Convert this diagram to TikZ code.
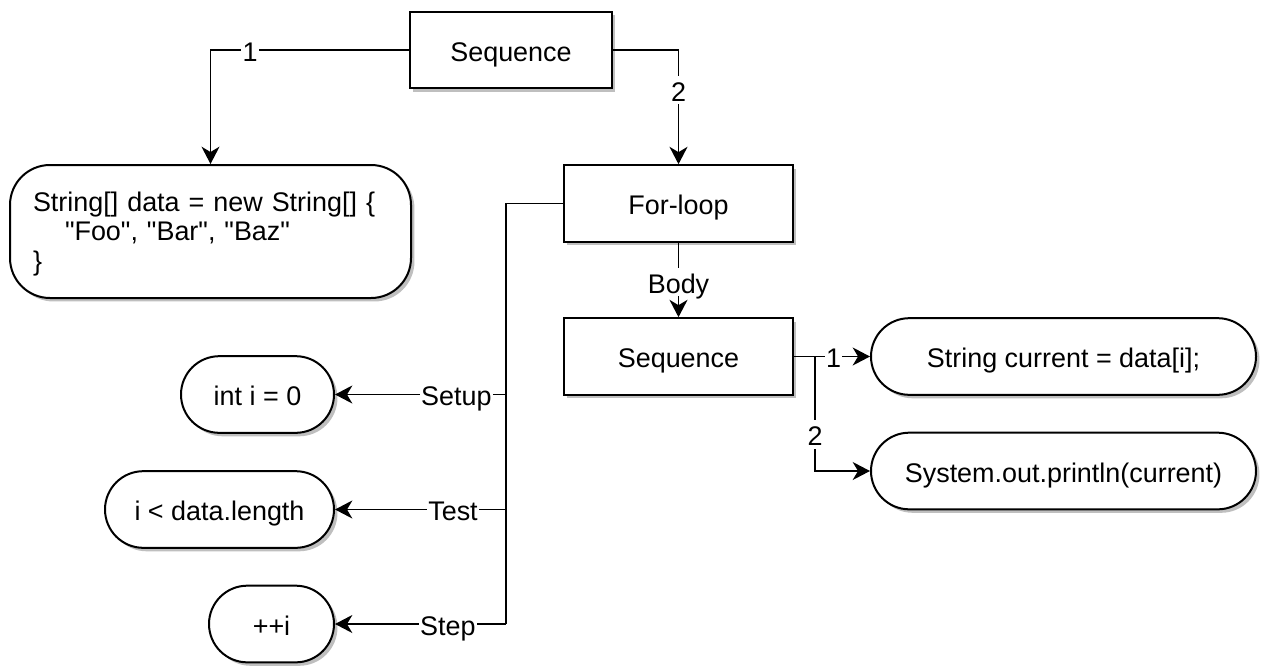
\documentclass[tikz,border=0pt]{standalone}
\usepackage{fontspec}
\setmainfont{Liberation Sans}[Ligatures=TeXOff]
\usetikzlibrary{shapes.misc,shadows,arrows.meta}
\begin{document}
\begin{tikzpicture}[x=0.75pt,y=-0.75pt,
  font=\fontsize{20.2}{22}\selectfont,
  shade/.style={drop shadow={shadow xshift=2.6pt,shadow yshift=-2.6pt,fill=black,opacity=0.25}},
  oneline/.style={text height=17.5pt,text depth=0.8pt},
  box/.style={draw,line width=1.5pt,fill=white,inner sep=0pt,shade},
  blockbox/.style={box,oneline,rectangle,minimum height=57.5pt},
  leafbox/.style={box,oneline,rounded rectangle,minimum height=57.5pt},
  link/.style={line width=1.4pt},
  arr/.style={link,-{Stealth[length=13pt,width=13.5pt,inset=4pt]}},
  tag/.style={oneline,fill=white,inner xsep=1pt,inner ysep=1.5pt}]
\useasboundingbox (0,0) rectangle (1263,668);

% statement nodes
\node[blockbox,minimum width=151.5pt] (seqtop) at (511,50) {Sequence};
\node[box,rectangle,rounded corners=30pt,minimum width=300.75pt,minimum height=99.75pt] (decl) at (210.5,231.5) {};
\node[text width=266.25pt,align=left,inner sep=0pt] (decltext) at (210.5,234)
  {String[] data = new String[] \{\\\hspace*{24pt}"Foo", "Bar", "Baz"\\\}};
\node[blockbox,minimum width=171.75pt] (loop) at (678.5,203.5) {For-loop};
\node[blockbox,minimum width=171.75pt] (seqbody) at (678.5,356.5) {Sequence};
\node[leafbox,minimum width=288.75pt] (cur) at (1063.5,356.5) {String current = data[i];};
\node[leafbox,minimum width=288.75pt] (print) at (1063.5,471) {System.out.println(current)};
\node[leafbox,minimum width=114.75pt] (init) at (257.5,394.5) {int i = 0};
\node[leafbox,minimum width=171.75pt] (test) at (219.5,509.5) {i < data.length};
\node[leafbox,minimum width=93.75pt] (incr) at (271.5,624) {++i};

% junction points
\coordinate (jsetup) at (506,394.5);
\coordinate (jtest) at (506,509.5);
\coordinate (jstep) at (506,624);
\coordinate (fork) at (815,356.5);

% connectors
\draw[arr] (seqtop.west) -| node[tag,pos=0.4] {1} (decl.north);
\draw[arr] (seqtop.east) -| node[tag,pos=0.675] {2} (loop.north);
\draw[arr] (loop.south) -- node[tag,pos=0.53] {Body} (seqbody.north);
\draw[link] (loop.west) -| (jstep);
\draw[arr] (jsetup) -- node[tag,pos=0.29] {Setup} (init.east);
\draw[arr] (jtest) -- node[tag,pos=0.31] {Test} (test.east);
\draw[arr] (jstep) -- node[tag,pos=0.34] {Step} (incr.east);
\draw[arr] (seqbody.east) -- node[tag,pos=0.52] {1} (cur.west);
\draw[arr] (fork) |- node[tag,pos=0.34] {2} (print.west);
\end{tikzpicture}
\end{document}
